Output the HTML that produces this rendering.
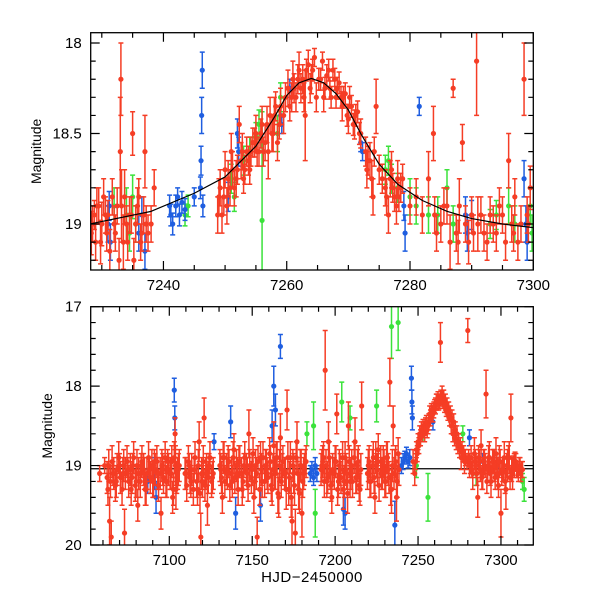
<!DOCTYPE html>
<html><head><meta charset="utf-8"><style>
html,body{margin:0;padding:0;background:#fff;}
svg{display:block;font-family:"Liberation Sans",sans-serif;}
</style></head><body>
<svg id="chart" width="600" height="600" viewBox="0 0 600 600"></svg>
<script>
// ---------- data: top panel ----------
const topRedT=[7228.5,7228.8,7229,7229.5,7230,7230.3,7230.8,7231,7232,7232.5,7233,7233.1,7233.2,7233.5,7234,7234.5,7235,7235.5,7236,7236.5,7237,7237.2,7238,7238.5,7249,7249.5,7250,7250.3,7250.5,7251,7251.5,7252,7252.3,7252.6,7253,7253.5,7254,7254.5,7255,7255.5,7256,7256.5,7257,7257.3,7257.6,7258,7258.5,7259,7259.5,7260.2,7260.5,7261,7261.5,7262,7262.3,7263,7263.5,7263.8,7264,7264.5,7264.8,7265.5,7265.8,7266,7266.5,7267,7267.5,7268,7268.5,7269,7269.5,7270,7270.5,7271,7271.5,7272,7272.8,7273,7273.5,7274,7274.5,7275,7276,7276.5,7277,7277.5,7278,7278.5,7280,7281,7282,7283,7283.8,7284,7285,7286,7286.5,7287,7287.5,7288,7288.5,7289,7289.5,7290,7290.8,7291,7292,7293,7294,7295,7295.5,7296,7296.5,7297,7298,7298.5,7299,7299.5];
const topRedM=[19.0,18.95,19.1,18.9,19.0,18.85,19.05,18.95,19.0,18.9,18.6,18.2,18.9,19.1,19.0,18.95,18.5,19.0,18.85,19.05,18.6,19.0,19.0,18.8,18.85,18.95,18.7,18.9,18.75,18.6,18.8,18.7,18.45,18.65,18.75,18.6,18.7,18.55,18.5,18.6,18.45,18.55,18.6,18.4,18.5,18.4,18.55,18.35,18.4,18.25,18.35,18.2,18.3,18.15,18.25,18.4,18.12,18.25,18.2,18.08,18.3,18.2,18.1,18.3,18.18,18.25,18.15,18.3,18.22,18.35,18.28,18.42,18.35,18.45,18.38,18.5,18.6,18.7,18.65,18.85,18.35,18.7,18.8,18.95,18.7,18.85,18.75,18.8,18.9,18.85,18.95,18.75,18.5,18.95,19.0,18.9,19.1,18.25,19.05,18.9,18.55,19.0,19.1,18.95,18.1,19.0,19.05,18.95,19.05,18.95,19.1,18.65,19.0,18.85,19.0,18.2,18.95,18.8];
const topRedE=[.1,.08,.1,.1,.12,.1,.1,.08,.1,.1,.3,.2,.2,.15,.1,.1,.12,.1,.1,.1,.2,.1,.1,.1,.1,.1,.1,.1,.1,.1,.1,.08,.1,.1,.08,.08,.08,.08,.1,.08,.1,.1,.15,.1,.1,.1,.1,.1,.1,.1,.08,.1,.08,.1,.08,.25,.08,.08,.08,.05,.08,.06,.05,.08,.06,.06,.06,.06,.06,.08,.06,.08,.06,.08,.06,.08,.08,.1,.1,.1,.15,.08,.1,.1,.1,.08,.1,.08,.1,.1,.1,.15,.15,.1,.1,.1,.15,.05,.1,.15,.1,.1,.12,.1,.3,.15,.1,.1,.1,.1,.1,.15,.1,.1,.1,.2,.1,.12];
const topRed2T=[7228.3,7229.2,7229.8,7230.6,7231.3,7231.7,7232.2,7232.8,7233.7,7234.2,7234.8,7235.2,7235.8,7236.3,7236.8,7237.5,7248.8,7249.2,7249.8,7250.8,7251.2,7251.8,7252.8,7253.2,7253.8,7254.2,7254.8,7255.2,7255.8,7256.2,7256.8,7257.8,7258.2,7258.8,7259.8,7260.8,7261.2,7261.8,7262.6,7262.8,7263.2,7264.2,7265.2,7266.2,7266.8,7267.2,7267.8,7268.2,7268.8,7269.2,7269.8,7270.2,7270.8,7271.2,7271.8,7273.2,7273.8,7274.2,7275.5,7276.2,7276.8,7277.2,7277.8,7278.2,7278.8,7284.3,7285.5,7287.8,7290.3,7291.5,7292.5,7293.5,7294.5,7296.8,7297.5,7299.2];
const topRed2M=[19.05,18.9,19.1,18.95,19.15,18.85,19.05,19.2,18.85,19.1,18.95,19.2,18.9,19.1,18.95,19.05,18.95,18.8,18.85,18.8,18.7,18.75,18.6,18.7,18.65,18.6,18.55,18.6,18.5,18.6,18.45,18.5,18.35,18.45,18.3,18.3,18.25,18.2,18.2,18.3,18.15,18.15,18.2,18.25,18.15,18.3,18.2,18.25,18.3,18.3,18.4,18.3,18.45,18.4,18.5,18.65,18.75,18.6,18.75,18.85,18.75,18.8,18.9,18.85,18.75,19.05,18.9,19.1,19.05,18.95,19.1,19.0,18.9,19.05,19.1,19.0];
const topRed2E=[.12,.1,.12,.1,.12,.1,.1,.12,.15,.1,.1,.12,.1,.1,.1,.1,.1,.1,.1,.1,.1,.1,.1,.08,.08,.08,.08,.08,.08,.08,.1,.1,.08,.08,.08,.08,.08,.08,.08,.08,.06,.06,.06,.06,.06,.06,.06,.06,.06,.06,.06,.06,.06,.06,.06,.08,.1,.08,.08,.1,.1,.08,.1,.08,.08,.1,.1,.12,.1,.1,.1,.1,.1,.1,.1,.1];
const topBlueT=[7231,7231.2,7231.4,7236,7236.5,7237,7241,7241.2,7241.5,7242,7242.3,7242.6,7243,7243.5,7245,7246,7246.1,7246.2,7246.3,7246.4,7250.5,7252,7252.2,7259,7259.2,7260.5,7272,7272.3,7279,7279.2,7281.5,7289,7289.3,7290,7298.5,7298.8,7299];
const topBlueM=[19.0,18.9,19.1,19.05,18.95,19.15,18.9,18.95,19.0,18.9,18.85,18.95,18.88,18.92,18.85,18.8,18.65,18.4,18.15,18.9,18.85,18.5,18.6,18.4,18.45,18.25,18.55,18.6,18.9,19.05,18.35,18.95,19.05,18.95,18.75,19.0,19.1];
const topBlueE=[.1,.08,.1,.1,.1,.1,.06,.06,.06,.06,.05,.06,.06,.06,.05,.06,.08,.1,.1,.06,.08,.08,.08,.05,.05,.05,.05,.05,.08,.1,.05,.1,.1,.08,.1,.1,.1];
const topGreenT=[7232,7234,7234.5,7235,7235.5,7243.5,7244,7251,7251.5,7253,7254,7255,7255.5,7256,7259,7258.5,7276,7276.5,7277,7278,7280,7281,7283,7284.5,7286,7287,7293,7294,7296,7297,7299.5,7299.8];
const topGreenM=[18.9,18.95,19.05,18.85,19.0,18.95,18.9,18.75,18.85,18.65,18.6,18.52,18.45,18.98,18.3,18.5,18.7,18.65,18.75,18.8,18.85,18.9,18.95,18.95,18.8,19.0,19.0,18.95,18.9,19.0,18.9,19.05];
const topGreenE=[.1,.15,.1,.12,.1,.06,.06,.08,.08,.08,.08,.08,.08,.6,.08,.1,.08,.08,.08,.08,.1,.1,.1,.1,.1,.1,.08,.08,.1,.1,.1,.1];
const modelT=[7228,7238,7245,7250,7255,7258,7260,7262,7264,7266,7268,7270,7272,7275,7278,7282,7286,7290,7295,7300];
const modelM=[19.0,18.93,18.83,18.74,18.57,18.41,18.29,18.22,18.196,18.22,18.28,18.37,18.5,18.67,18.78,18.87,18.93,18.97,19.0,19.02];
const topXTicks=[7240,7260,7280,7300];
const topYTicks=[18,18.5,19];
// ---------- data: bottom panel ----------
const botRedT=[7058,7061,7063,7064,7065,7066,7068,7070,7072,7073,7075,7077,7078,7080,7081,7083,7085,7086,7088,7090,7091,7093,7095,7096,7098,7099,7101,7102,7103,7103.5,7104,7105,7106,7110,7112,7113,7115,7117,7118,7119,7120,7121,7122,7123,7124,7126,7131,7132,7133,7135,7136,7138,7139,7141,7142,7144,7145,7147,7148,7150,7151,7152,7153,7155,7156,7158,7159,7161,7162,7163,7164,7165,7166,7167,7168,7170,7171,7172,7173,7174,7175,7176,7177,7178,7179,7180,7181,7182,7192,7193,7194,7195,7196,7197,7198,7200,7201,7202,7203,7205,7206,7207,7208,7209,7210,7212,7213,7214,7215,7216,7220,7221,7223,7224,7225,7226,7228,7229,7230,7231,7232,7233,7234,7235,7236,7237,7238,7247,7248,7249,7250,7251,7252,7253,7254,7255,7256,7257,7258,7259,7260,7261,7262,7263,7263.5,7264,7265,7266,7267,7268,7269,7270,7271,7272,7273,7274,7275,7276,7277,7278,7280,7281,7282,7283,7284,7285,7286,7287,7288,7289,7290,7291,7292,7293,7294,7295,7296,7297,7298,7299,7300,7301,7302,7303,7304,7305,7306,7307,7308,7309,7310,7311,7312,7313];
const botRedM=[19.1,19.0,19.3,19.7,19.9,19.1,19.2,19.0,19.1,19.85,19.05,19.3,19.0,19.2,19.5,19.0,19.1,19.3,19.05,19.2,18.95,19.1,19.6,19.05,19.2,18.95,19.1,19.4,18.9,18.6,19.3,19.1,19.0,19.1,19.0,19.2,19.05,19.3,18.7,19.9,19.2,18.4,19.1,19.5,19.0,19.15,19.05,19.4,18.9,19.1,18.95,19.2,18.8,19.1,18.95,19.3,19.0,19.1,18.6,19.05,19.4,19.0,19.9,18.9,19.2,19.0,19.1,18.95,19.3,18.75,19.1,18.9,19.4,18.65,19.05,19.1,18.3,19.3,18.9,19.7,19.1,19.85,18.7,19.3,19.0,19.6,19.1,18.95,19.0,18.9,17.8,19.2,18.7,19.1,19.4,18.95,18.35,19.2,19.05,19.3,18.9,19.1,18.5,19.2,19.0,18.7,19.15,18.95,19.3,18.25,19.0,19.2,18.9,19.4,19.0,18.8,19.1,18.95,19.2,18.9,19.05,17.95,19.3,18.5,19.0,19.4,18.85,18.95,19.1,18.8,18.7,18.6,18.55,18.5,18.6,18.45,18.5,18.35,18.3,18.35,18.25,18.2,18.15,18.2,17.45,18.15,18.2,18.25,18.3,18.35,18.4,18.5,18.6,18.65,18.7,18.75,18.8,18.9,18.85,18.95,17.3,19.0,18.9,19.1,18.85,19.0,19.4,18.95,18.75,19.1,18.95,18.1,19.05,18.9,19.2,18.95,19.0,18.85,19.1,18.95,19.6,19.05,18.9,19.3,19.0,18.9,18.4,19.1,19.0,18.95,19.05,19.0,19.1,19.05];
const botRedE=[.1,.1,.2,.3,.2,.15,.2,.15,.2,.3,.15,.2,.15,.2,.2,.15,.2,.2,.15,.2,.15,.2,.2,.2,.2,.15,.2,.2,.2,.2,.25,.2,.2,.2,.15,.2,.15,.2,.25,.3,.2,.25,.2,.25,.15,.2,.2,.2,.2,.2,.15,.2,.2,.2,.2,.2,.15,.2,.3,.2,.2,.2,.25,.2,.2,.2,.2,.2,.2,.3,.2,.2,.25,.3,.2,.2,.25,.2,.2,.3,.25,.3,.25,.25,.2,.3,.2,.15,.2,.2,.5,.2,.25,.2,.2,.2,.25,.2,.2,.25,.2,.2,.3,.2,.2,.3,.2,.2,.2,.3,.2,.2,.2,.2,.15,.2,.2,.2,.2,.2,.2,.3,.3,.25,.2,.3,.2,.15,.15,.1,.1,.1,.1,.08,.1,.08,.1,.1,.08,.1,.08,.1,.08,.08,.25,.08,.08,.08,.08,.08,.1,.1,.1,.1,.1,.1,.1,.15,.1,.15,.15,.15,.15,.2,.2,.15,.25,.15,.2,.2,.15,.3,.15,.2,.2,.15,.2,.2,.2,.2,.3,.15,.2,.25,.2,.2,.3,.2,.15,.1,.1,.1,.1,.1];
const botRed2T=[7062.5,7063.5,7064.5,7065.5,7066.5,7067.5,7068.5,7069.5,7070.5,7071.5,7072.5,7073.5,7074.5,7075.5,7076.5,7077.5,7078.5,7079.5,7080.5,7081.5,7082.5,7083.5,7084.5,7085.5,7086.5,7087.5,7088.5,7089.5,7090.5,7091.5,7092.5,7093.5,7094.5,7095.5,7096.5,7097.5,7098.5,7099.5,7100.5,7101.5,7102.5,7103.7,7104.5,7105.5,
7109.5,7110.5,7111.5,7112.5,7113.5,7114.5,7115.5,7116.5,7117.5,7118.5,7119.5,7120.5,7121.5,7122.5,7123.5,7124.5,7125.5,7126.5,
7130.5,7131.5,7132.5,7133.5,7134.5,7135.5,7136.5,7137.5,7138.5,7139.5,7140.5,7141.5,7142.5,7143.5,7144.5,7145.5,7146.5,7147.5,7148.5,7149.5,7150.5,7151.5,7152.5,7153.5,7154.5,7155.5,7156.5,7157.5,7158.5,7159.5,7160.5,7161.5,7162.5,7163.5,7164.5,7165.5,7166.5,7167.5,7168.5,7169.5,7170.5,7171.5,7172.5,7173.5,7174.5,7175.5,7176.5,7177.5,7178.5,7179.5,7180.5,7181.5,7182.5,
7191.5,7192.5,7193.5,7194.5,7195.5,7196.5,7197.5,7198.5,7199.5,7200.5,7201.5,7202.5,7203.5,7204.5,7205.5,7206.5,7207.5,7208.5,7209.5,7210.5,7211.5,7212.5,7213.5,7214.5,7215.5,
7219.5,7220.5,7221.5,7222.5,7223.5,7224.5,7225.5,7226.5,7227.5,7228.5,7229.5,7230.5,7231.5,7232.5,7233.5,7234.5,7235.5,7236.5,7237.5,7238.5,
7248.5,7249.5,7250.5,7251.5,7252.5,7253.5,7254.5,7255.5,7256.5,7257.5,7258.5,7259.5,7260.5,7261.5,7262.5,7263.7,7264.5,7265.5,7266.5,7267.5,7268.5,7269.5,7270.5,7271.5,7272.5,7273.5,7274.5,7275.5,7276.5,7277.5,7278.5,7279.5,7280.5,7281.5,7282.5,
7284.5,7285.5,7286.5,7287.5,7288.5,7289.5,7290.5,7291.5,7292.5,7293.5,7294.5,7295.5,7296.5,7297.5,7298.5,7299.5,7300.5,7301.5,7302.5,7303.5,7304.5,7305.5,7306.5,7307.5,7308.5,7309.5,7310.5,7311.5,7312.5];
const botRed2M=[19.15,19.0,19.2,18.95,19.1,19.25,19.05,18.9,19.15,19.3,19.0,19.1,18.95,19.2,19.05,19.15,18.9,19.25,19.0,19.1,19.2,18.95,19.05,19.3,19.1,18.9,19.15,19.0,19.2,19.05,18.95,19.25,19.1,19.0,19.15,18.9,19.2,19.05,19.1,18.95,19.3,19.0,19.15,19.05,
19.1,19.25,18.95,19.15,19.05,19.3,18.9,19.2,19.0,19.35,19.1,18.95,19.25,19.05,19.15,18.9,19.2,19.1,
19.0,19.15,18.9,19.2,19.05,18.95,19.25,19.1,18.9,19.15,19.0,19.3,18.95,19.1,19.2,18.9,19.05,19.25,19.0,19.15,18.85,19.2,19.1,18.95,19.3,19.05,18.9,19.2,19.0,19.15,18.85,19.25,19.05,19.1,18.9,19.35,19.0,19.2,18.95,19.1,19.3,18.9,19.15,19.4,19.0,19.25,18.9,19.1,19.35,19.0,19.2,19.05,18.95,
19.05,18.95,19.2,19.0,19.15,18.9,19.25,19.05,19.1,18.95,19.3,19.0,19.15,18.9,19.2,19.05,19.35,18.95,19.1,19.2,18.9,19.15,19.0,19.25,19.05,
19.1,18.95,19.2,19.0,19.15,18.9,19.05,19.25,18.95,19.1,19.0,19.2,18.9,19.15,19.3,19.0,19.1,18.95,19.2,19.05,
18.95,18.85,18.75,18.65,18.6,18.55,18.5,18.55,18.45,18.4,18.35,18.3,18.25,18.2,18.2,18.15,18.1,18.15,18.2,18.25,18.3,18.35,18.4,18.45,18.55,18.6,18.7,18.75,18.8,18.85,18.9,18.95,18.9,19.0,19.05,
18.95,19.1,18.9,19.05,19.15,18.95,19.0,19.2,18.9,19.1,19.05,18.95,19.15,19.0,19.25,18.95,19.1,19.05,19.2,19.0,18.9,19.15,19.05,19.0,18.95,19.05,19.1,19.0,19.05];
const botRed2E=[.2,.2,.2,.2,.2,.2,.2,.2,.2,.2,.2,.2,.2,.2,.2,.2,.2,.2,.2,.2,.2,.2,.2,.2,.2,.2,.2,.2,.2,.2,.2,.2,.2,.2,.2,.2,.2,.2,.2,.2,.2,.25,.2,.2,
.2,.2,.2,.2,.2,.2,.2,.2,.2,.25,.2,.2,.2,.2,.2,.2,.2,.2,
.2,.2,.2,.2,.2,.2,.2,.2,.2,.2,.2,.2,.2,.2,.2,.2,.2,.2,.2,.2,.2,.2,.2,.2,.2,.2,.2,.2,.2,.2,.2,.2,.2,.2,.2,.25,.2,.2,.2,.2,.25,.2,.2,.25,.2,.25,.2,.2,.25,.2,.2,.2,.2,
.2,.2,.2,.2,.2,.2,.2,.2,.2,.2,.2,.2,.2,.2,.2,.2,.25,.2,.2,.2,.2,.2,.2,.2,.2,
.2,.2,.2,.2,.2,.2,.2,.2,.2,.2,.2,.2,.2,.2,.2,.2,.2,.2,.2,.2,
.1,.1,.1,.1,.1,.1,.1,.1,.1,.1,.1,.1,.1,.1,.1,.1,.1,.1,.1,.1,.1,.1,.1,.1,.1,.1,.1,.1,.1,.1,.1,.1,.1,.1,.1,
.15,.15,.15,.15,.15,.15,.15,.15,.15,.15,.15,.15,.15,.15,.15,.15,.15,.15,.15,.15,.15,.15,.15,.12,.12,.1,.1,.1,.1];
const botBlueT=[7087,7091,7092,7103,7103.3,7127,7137,7140,7155,7163,7162,7164,7167,7185,7186,7187,7188,7189,7205,7206,7236,7240,7241,7242,7243,7244,7245,7246,7246.3,7246.6,7259,7272,7281,7289,7298];
const botBlueM=[19.2,19.1,19.4,18.05,18.4,18.7,18.45,19.6,19.5,18.0,18.5,18.3,17.5,19.1,19.05,19.15,19.0,19.1,19.55,19.6,19.75,19.0,18.95,18.9,18.85,18.95,18.9,17.9,18.2,18.4,18.45,18.6,18.65,18.95,19.0];
const botBlueE=[.15,.2,.2,.15,.15,.1,.2,.2,.2,.25,.2,.2,.15,.1,.1,.1,.1,.1,.2,.2,.3,.1,.1,.08,.08,.08,.1,.15,.15,.15,.1,.1,.1,.1,.1];
const botGreenT=[7183,7187,7188,7204,7209,7225,7234,7238,7249,7253,7256,7277,7285,7312,7313,7314];
const botGreenM=[18.6,18.5,19.6,18.2,18.4,18.25,17.25,17.2,19.0,18.6,19.4,18.6,19.1,19.1,19.2,19.3];
const botGreenE=[.15,.3,.3,.25,.15,.2,.4,.35,.15,.1,.3,.1,.15,.1,.1,.15];
const baseline=[19.04];
const botXTicks=[7100,7150,7200,7250,7300];
const botYTicks=[17,18,19,20];

const NS='http://www.w3.org/2000/svg';
const svg=document.getElementById('chart');
function mk(tag,attrs,parent){const e=document.createElementNS(NS,tag);for(const k in attrs)e.setAttribute(k,attrs[k]);(parent||svg).appendChild(e);return e;}
const RED='#f53d25',BLUE='#1f5ee0',GREEN='#3be23b';

function panel(cfg){
  const {L,R,T,B,x0,x1,y0,y1,id}=cfg;
  const X=t=>L+(t-x0)/(x1-x0)*(R-L);
  const Y=m=>T+(m-y0)/(y1-y0)*(B-T);
  const g=mk('g',{});
  
  
  const cp=mk('clipPath',{id:id+'-clip'},g);
  mk('rect',{x:L,y:T,width:R-L,height:B-T},cp);
  const plot=mk('g',{'clip-path':'url(#'+id+'-clip)'},g);
  
  
  function series(ts,ms,es,col,name){
    const sg=mk('g',{},plot);
    
    
    for(let i=0;i<ts.length;i++){
      const x=X(ts[i]),y=Y(ms[i]),ya=Y(ms[i]-es[i]),yb=Y(ms[i]+es[i]);
      const p=mk('path',{d:`M${x},${ya}V${yb}M${x-2.5},${ya}H${x+2.5}M${x-2.5},${yb}H${x+2.5}`,stroke:col,'stroke-width':1.5,fill:'none'},sg);
      
      
      const c=mk('circle',{cx:x,cy:y,r:2.6,fill:col},sg);
      
      
    }
  }
  if(cfg.baseline){
    const l=mk('line',{x1:L,x2:R,y1:Y(cfg.baseline[0]),y2:Y(cfg.baseline[0]),stroke:'#000','stroke-width':1.2},plot);
    
    
  }
  cfg.series.forEach(s=>series(...s));
  if(cfg.modelT){
    const d=cfg.modelT.map((t,i)=>(i?'L':'M')+X(t)+','+Y(cfg.modelM[i])).join('');
    const p=mk('path',{d:d,stroke:'#000','stroke-width':1.2,fill:'none','stroke-linejoin':'round'},plot);
    
    
  }
  const fr=mk('rect',{x:L,y:T,width:R-L,height:B-T,fill:'none',stroke:'#000','stroke-width':1.3},g);
  
  
  let d='';
  for(let t=Math.ceil(x0/cfg.xminor)*cfg.xminor;t<=x1+1e-6;t+=cfg.xminor){
    const maj=Math.abs(t/cfg.xmajor-Math.round(t/cfg.xmajor))<1e-6,len=maj?9:5,x=X(t);
    d+=`M${x},${B}v${-len}M${x},${T}v${len}`;
  }
  for(let k=Math.ceil((y0-1e-9)/cfg.yminor);k*cfg.yminor<=y1+1e-6;k++){
    const m=k*cfg.yminor,maj=Math.abs(m/cfg.ymajor-Math.round(m/cfg.ymajor))<1e-6,len=maj?9:5,y=Y(m);
    d+=`M${L},${y}h${len}M${R},${y}h${-len}`;
  }
  const tk=mk('path',{d:d,stroke:'#000','stroke-width':1.2,fill:'none'},g);
  
  
  cfg.xticks.forEach(t=>{
    const e=mk('text',{x:X(t),y:B+20,'text-anchor':'middle','font-size':15},g);
    e.textContent=t;
    
    
  });
  cfg.yticks.forEach(m=>{
    const e=mk('text',{x:L-9,y:Y(m)+5,'text-anchor':'end','font-size':15},g);
    e.textContent=m;
    
    
  });
  const yt=mk('text',{x:0,y:0,transform:`translate(${cfg.ylx},${(T+B)/2}) rotate(-90)`,'text-anchor':'middle','font-size':14},g);
  yt.textContent='Magnitude';
  
  
}

panel({id:'top',L:90.7,R:533.3,T:32.7,B:270,x0:7228.2,x1:7300,y0:17.943,y1:19.254,
  xminor:5,xmajor:20,yminor:0.1,ymajor:0.5,xticks:topXTicks,yticks:topYTicks,ylx:41,
  modelT:modelT,modelM:modelM,
  series:[[topGreenT,topGreenM,topGreenE,GREEN,'green'],[topBlueT,topBlueM,topBlueE,BLUE,'blue'],[topRed2T,topRed2M,topRed2E,RED,'red'],[topRedT,topRedM,topRedE,RED,'red']]});
panel({id:'bottom',L:90.7,R:533.3,T:306.7,B:545,x0:7052.6,x1:7319.5,y0:17,y1:20,
  xminor:10,xmajor:50,yminor:0.2,ymajor:1,xticks:botXTicks,yticks:botYTicks,ylx:52,
  baseline:baseline,
  series:[[botGreenT,botGreenM,botGreenE,GREEN,'green'],[botBlueT,botBlueM,botBlueE,BLUE,'blue'],[botRed2T,botRed2M,botRed2E,RED,'red'],[botRedT,botRedM,botRedE,RED,'red']]});
const xl=mk('text',{x:312,y:582,'text-anchor':'middle','font-size':15,'letter-spacing':'0.5'});
xl.textContent='HJD\u22122450000';


</script>
</body></html>
